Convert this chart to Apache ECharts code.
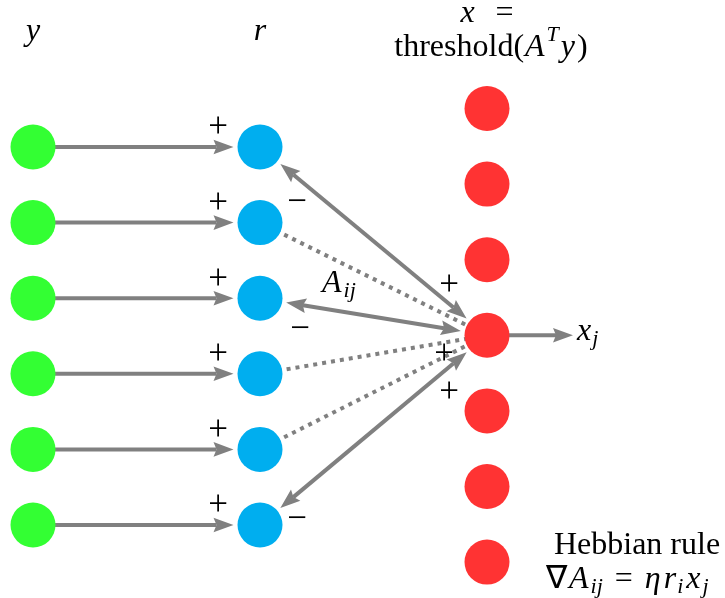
<!DOCTYPE html>
<html><head><meta charset="utf-8">
<script src="https://cdn.jsdelivr.net/npm/echarts@6/dist/echarts.min.js"></script>
<style>html,body{margin:0;padding:0;background:#fff}#c{width:725px;height:598px}</style>
</head><body><div id="c"></div>
<script>
// ---------------- data ----------------
const inputRows = [0, 1, 2, 3, 4, 5];            // y nodes (green)
const residualRows = [0, 1, 2, 3, 4, 5];         // r nodes (blue)
const outputRows = [0, 1, 2, 3, 4, 5, 6];        // x nodes (red)
const activeOutput = 3;                           // the x_j node
const feedbackKinds = ['solid', 'dotted', 'solid', 'dotted', 'dotted', 'solid']; // link r_i <-> x_j
const inputSigns = ['+', '+', '+', '+', '+', '+'];
const residualSigns = ['−', '−', '−'];            // signs at r end of solid links
const outputSigns = ['+', '+', '+'];              // signs at x_j end of solid links

// ---------------- layout / style ----------------
const W = 725, H = 598;
const colX = [33, 260, 487];
const rowTop = 147, rowStep = 75.6;
const outTop = 108.5;
const NODE = 45, R = NODE / 2, GAP = 4;
const GRAY = '#808080';
const COLORS = ['#33ff33', '#00aeef', '#ff3333'];
const FAMILY = 'Liberation Serif';
const BASE = 32;

const greenPts = inputRows.map(i => [colX[0], rowTop + i * rowStep]);
const bluePts = residualRows.map(i => [colX[1], rowTop + i * rowStep]);
const redPts = outputRows.map(i => [colX[2], outTop + i * rowStep]);
const xj = redPts[activeOutput];
const outEnd = [xj[0] + 86, xj[1]];

// edges: [x1,y1,x2,y2,r1,r2,headFrom,headTo,dotted]
const edges = [];
inputRows.forEach((_, i) => {
  edges.push([greenPts[i][0], greenPts[i][1], bluePts[i][0], bluePts[i][1], 0, R + GAP, 0, 1, 0]);
});
feedbackKinds.forEach((k, i) => {
  const solid = k === 'solid';
  edges.push([bluePts[i][0], bluePts[i][1], xj[0], xj[1],
    solid ? R + GAP : 0, solid ? R + GAP : 0, solid ? 1 : 0, solid ? 1 : 0, solid ? 0 : 1]);
});
edges.push([xj[0], xj[1], outEnd[0], outEnd[1], 0, 0, 0, 1, 0]);

function renderArrow(params, api) {
  const p1 = api.coord([api.value(0), api.value(1)]);
  const p2 = api.coord([api.value(2), api.value(3)]);
  const r1 = api.value(4), r2 = api.value(5);
  const hf = api.value(6), ht = api.value(7), dotted = api.value(8);
  const dx = p2[0] - p1[0], dy = p2[1] - p1[1];
  const len = Math.hypot(dx, dy), ux = dx / len, uy = dy / len;
  const a = [p1[0] + ux * r1, p1[1] + uy * r1];
  const b = [p2[0] - ux * r2, p2[1] - uy * r2];
  const L = 20, HW = 7.3, N = 3;
  const s = hf ? [a[0] + ux * (L - N), a[1] + uy * (L - N)] : a;
  const e = ht ? [b[0] - ux * (L - N), b[1] - uy * (L - N)] : b;
  const children = [{
    type: 'line',
    shape: { x1: s[0], y1: s[1], x2: e[0], y2: e[1] },
    style: { stroke: GRAY, lineWidth: 4, lineDash: dotted ? [4, 5] : null, lineCap: 'butt' }
  }];
  function head(tip, vx, vy) {
    const bx = tip[0] - vx * L, by = tip[1] - vy * L, nx = -vy, ny = vx;
    const notch = [tip[0] - vx * (L - N), tip[1] - vy * (L - N)];
    return { type: 'polygon', shape: { points: [tip, [bx + nx * HW, by + ny * HW], notch, [bx - nx * HW, by - ny * HW]] },
      style: { fill: GRAY } };
  }
  if (hf) children.push(head(a, -ux, -uy));
  if (ht) children.push(head(b, ux, uy));
  return { type: 'group', children };
}

// ---------------- text helpers ----------------
const mctx = document.createElement('canvas').getContext('2d');
const MID = 0.175;
function runsText(runs, ax, baseline, align, size) {
  size = size || BASE;
  const items = runs.map(([t, k, pad]) => {
    const small = k === 'sub' || k === 'sup';
    const fs = small ? Math.round(size * 0.7) : size;
    const fst = k === 'rm' ? 'normal' : 'italic';
    mctx.font = fst + ' ' + fs + 'px "' + FAMILY + '"';
    const w = mctx.measureText(t).width;
    const shift = k === 'sub' ? size * 0.2 : k === 'sup' ? -size * 0.42 : 0;
    return { t, fs, fst, w, pad: pad || 0, shift };
  });
  const total = items.reduce((s, it) => s + it.pad + it.w, 0);
  let x = align === 'center' ? ax - total / 2 : align === 'right' ? ax - total : ax;
  const out = [];
  items.forEach(it => {
    x += it.pad;
    out.push({ type: 'text', x: x, y: baseline + it.shift - MID * it.fs, z: 100, silent: true,
      style: { text: it.t, font: it.fst + ' ' + it.fs + 'px "' + FAMILY + '"', fill: '#000',
        lineHeight: Math.round(it.fs * 0.75), align: 'left', verticalAlign: 'middle' } });
    x += it.w;
  });
  return out;
}
function sign(ch, cx, cy) {
  const fs = 35;
  return { type: 'text', x: cx, y: cy + 0.093 * fs, z: 100, silent: true,
    style: { text: ch, font: fs + 'px "' + FAMILY + '"', fill: '#000', lineHeight: 24,
      align: 'center', verticalAlign: 'middle' } };
}

const texts = [];
texts.push(...runsText([['y', 'it']], colX[0], 37, 'center'));
texts.push(...runsText([['r', 'it']], colX[1], 37, 'center'));
texts.push(...runsText([['x', 'it'], ['=', 'rm', 21]], 487, 19, 'center'));
texts.push(...runsText([['threshold(', 'rm'], ['A', 'it', 1], ['T', 'sup', 2], ['y', 'it', 2], [')', 'rm', 2]], 491, 53, 'center'));
inputSigns.forEach((s, i) => texts.push(sign(s, bluePts[i][0] - 42, bluePts[i][1] - 22)));
const resSignPos = [[297, 200], [300, 327], [297, 517]];
residualSigns.forEach((s, i) => texts.push(sign(s, resSignPos[i][0], resSignPos[i][1])));
const outSignPos = [[449, 283], [444, 352], [449, 390]];
outputSigns.forEach((s, i) => texts.push(sign(s, outSignPos[i][0], outSignPos[i][1])));
texts.push(...runsText([['A', 'it'], ['ij', 'sub', 2]], 322, 289, 'left'));
texts.push(...runsText([['x', 'it'], ['j', 'sub', 1]], outEnd[0] + 4, 337, 'left'));
texts.push(...runsText([['Hebbian rule', 'rm']], 637, 551, 'center'));
texts.push(...runsText([['∇', 'rm'], ['A', 'it', 2], ['ij', 'sub', 2], ['=', 'rm', 12], ['η', 'it', 12],
  ['r', 'it', 3], ['i', 'sub', 1], ['x', 'it', 3], ['j', 'sub', 2]], 546, 585, 'left'));

// ---------------- chart ----------------
const chart = echarts.init(document.getElementById('c'), null, { renderer: 'canvas' });
chart.setOption({
  animation: false,
  backgroundColor: '#fff',
  grid: { left: 0, right: 0, top: 0, bottom: 0 },
  xAxis: { type: 'value', min: 0, max: W, show: false },
  yAxis: { type: 'value', min: 0, max: H, inverse: true, show: false },
  series: [
    { type: 'custom', z: 1, silent: true, clip: false, renderItem: renderArrow,
      encode: { x: [0, 2], y: [1, 3] }, data: edges },
    { type: 'scatter', z: 5, silent: true, symbolSize: NODE, data: greenPts, itemStyle: { color: COLORS[0], opacity: 1 } },
    { type: 'scatter', z: 5, silent: true, symbolSize: NODE, data: bluePts, itemStyle: { color: COLORS[1], opacity: 1 } },
    { type: 'scatter', z: 5, silent: true, symbolSize: NODE, data: redPts, itemStyle: { color: COLORS[2], opacity: 1 } }
  ],
  graphic: { elements: texts }
});
</script></body></html>
